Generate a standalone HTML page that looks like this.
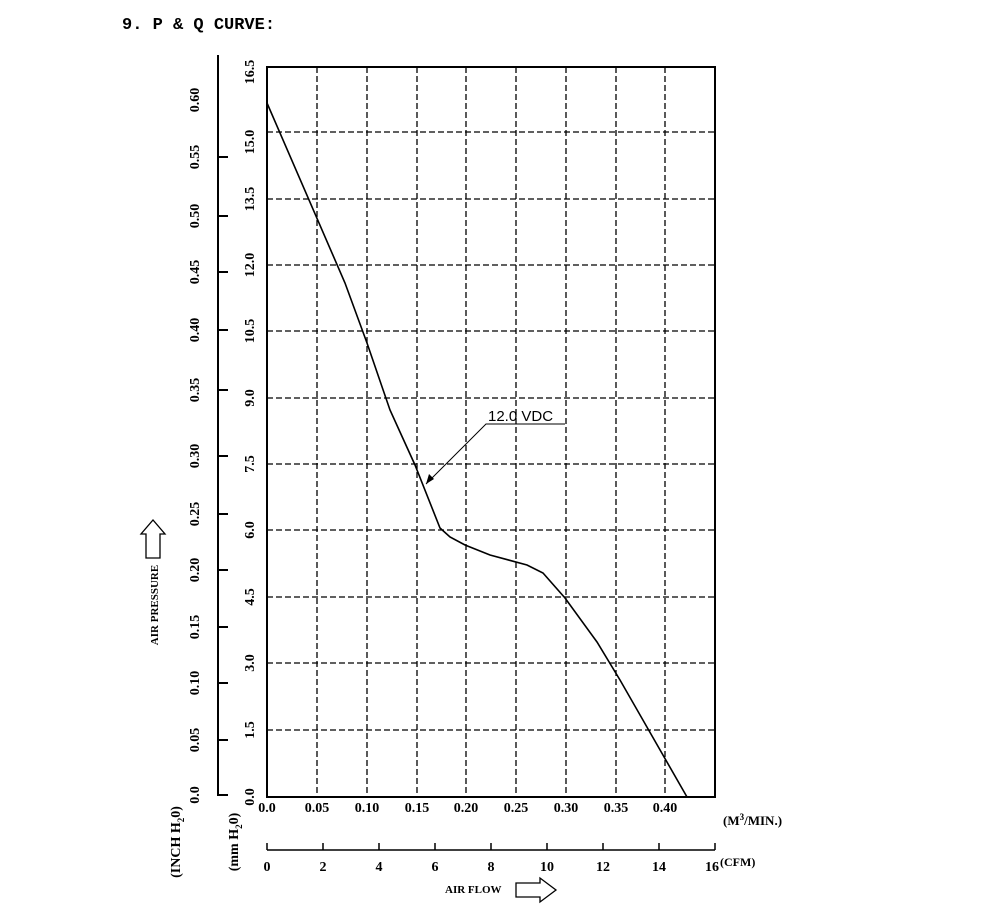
<!DOCTYPE html>
<html><head><style>body{margin:0;background:#fff}svg{display:block}</style></head><body>
<svg width="1000" height="914" xmlns="http://www.w3.org/2000/svg" font-family="Liberation Serif, serif" font-weight="bold">
<text x="122" y="29" font-size="17" font-family="Liberation Mono, monospace" font-weight="bold">9. P &amp; Q CURVE:</text>
<g stroke="#000" stroke-width="1.3" stroke-dasharray="6,3">
<line x1="317" y1="67" x2="317" y2="797"/><line x1="367" y1="67" x2="367" y2="797"/><line x1="417" y1="67" x2="417" y2="797"/><line x1="466" y1="67" x2="466" y2="797"/><line x1="516" y1="67" x2="516" y2="797"/><line x1="566" y1="67" x2="566" y2="797"/><line x1="616" y1="67" x2="616" y2="797"/><line x1="665" y1="67" x2="665" y2="797"/>
<line x1="267" y1="132" x2="715" y2="132"/><line x1="267" y1="199" x2="715" y2="199"/><line x1="267" y1="265" x2="715" y2="265"/><line x1="267" y1="331" x2="715" y2="331"/><line x1="267" y1="398" x2="715" y2="398"/><line x1="267" y1="464" x2="715" y2="464"/><line x1="267" y1="530" x2="715" y2="530"/><line x1="267" y1="597" x2="715" y2="597"/><line x1="267" y1="663" x2="715" y2="663"/><line x1="267" y1="730" x2="715" y2="730"/>
</g>
<rect x="267" y="67" width="448" height="730" fill="none" stroke="#000" stroke-width="2"/>
<polyline fill="none" stroke="#000" stroke-width="1.6" points="267,103 345,283 367,343 390,410 400,432 415,465 440,528 450,537 465,545 490,555 527,565 543,573 565,598 597,642 620,680 687,797"/>
<polyline fill="none" stroke="#000" stroke-width="1" points="426,484 486,424 565,424"/>
<polygon points="426,484 429,474 434,479"/>
<text x="488" y="421" font-size="15" font-family="Liberation Sans, sans-serif" font-weight="normal">12.0 VDC</text>
<g stroke="#000" stroke-width="2" fill="none">
<polyline points="218,55 218,795 228,795"/>
<line x1="218" y1="740" x2="228" y2="740"/><line x1="218" y1="683" x2="228" y2="683"/><line x1="218" y1="627" x2="228" y2="627"/><line x1="218" y1="570" x2="228" y2="570"/><line x1="218" y1="514" x2="228" y2="514"/><line x1="218" y1="456" x2="228" y2="456"/><line x1="218" y1="390" x2="228" y2="390"/><line x1="218" y1="330" x2="228" y2="330"/><line x1="218" y1="272" x2="228" y2="272"/><line x1="218" y1="216" x2="228" y2="216"/><line x1="218" y1="157" x2="228" y2="157"/>
</g>
<g stroke="#000" stroke-width="1.5" fill="none">
<line x1="267" y1="850" x2="715" y2="850"/>
<line x1="267" y1="843" x2="267" y2="850"/><line x1="323" y1="843" x2="323" y2="850"/><line x1="379" y1="843" x2="379" y2="850"/><line x1="435" y1="843" x2="435" y2="850"/><line x1="491" y1="843" x2="491" y2="850"/><line x1="547" y1="843" x2="547" y2="850"/><line x1="603" y1="843" x2="603" y2="850"/><line x1="659" y1="843" x2="659" y2="850"/><line x1="715" y1="843" x2="715" y2="850"/>
</g>
<g font-size="14" text-anchor="middle">
<text x="267" y="812">0.0</text><text x="317" y="812">0.05</text><text x="367" y="812">0.10</text><text x="417" y="812">0.15</text><text x="466" y="812">0.20</text><text x="516" y="812">0.25</text><text x="566" y="812">0.30</text><text x="616" y="812">0.35</text><text x="665" y="812">0.40</text>
<text x="267" y="871">0</text><text x="323" y="871">2</text><text x="379" y="871">4</text><text x="435" y="871">6</text><text x="491" y="871">8</text><text x="547" y="871">10</text><text x="603" y="871">12</text><text x="659" y="871">14</text><text x="712" y="871">16</text>
</g>
<text x="723" y="825" font-size="13">(M<tspan font-size="9" dy="-5">3</tspan><tspan dy="5">/MIN.)</tspan></text>
<text x="720" y="866" font-size="12">(CFM)</text>
<text x="445" y="893" font-size="11">AIR FLOW</text>
<polygon points="516,883 540,883 540,878 556,890 540,902 540,897 516,897" fill="none" stroke="#000" stroke-width="1.3"/>
<g font-size="14" text-anchor="middle">
<g transform="translate(254,0)">
<text transform="translate(0,797) rotate(-90)">0.0</text><text transform="translate(0,730) rotate(-90)">1.5</text><text transform="translate(0,663) rotate(-90)">3.0</text><text transform="translate(0,597) rotate(-90)">4.5</text><text transform="translate(0,530) rotate(-90)">6.0</text><text transform="translate(0,464) rotate(-90)">7.5</text><text transform="translate(0,398) rotate(-90)">9.0</text><text transform="translate(0,331) rotate(-90)">10.5</text><text transform="translate(0,265) rotate(-90)">12.0</text><text transform="translate(0,199) rotate(-90)">13.5</text><text transform="translate(0,142) rotate(-90)">15.0</text><text transform="translate(0,72) rotate(-90)">16.5</text>
</g>
<g transform="translate(199,0)">
<text transform="translate(0,795) rotate(-90)">0.0</text><text transform="translate(0,740) rotate(-90)">0.05</text><text transform="translate(0,683) rotate(-90)">0.10</text><text transform="translate(0,627) rotate(-90)">0.15</text><text transform="translate(0,570) rotate(-90)">0.20</text><text transform="translate(0,514) rotate(-90)">0.25</text><text transform="translate(0,456) rotate(-90)">0.30</text><text transform="translate(0,390) rotate(-90)">0.35</text><text transform="translate(0,330) rotate(-90)">0.40</text><text transform="translate(0,272) rotate(-90)">0.45</text><text transform="translate(0,216) rotate(-90)">0.50</text><text transform="translate(0,157) rotate(-90)">0.55</text><text transform="translate(0,100) rotate(-90)">0.60</text>
</g>
<text transform="translate(180,842) rotate(-90)">(INCH H<tspan font-size="9" dy="4">2</tspan><tspan dy="-4">0)</tspan></text>
<text transform="translate(238,842) rotate(-90)">(mm H<tspan font-size="9" dy="4">2</tspan><tspan dy="-4">0)</tspan></text>
<text transform="translate(158,605) rotate(-90)" font-size="11">AIR PRESSURE</text>
</g>
<polygon points="146,558 146,534 141,534 153,520 165,534 160,534 160,558" fill="none" stroke="#000" stroke-width="1.3"/>
</svg>
</body></html>
